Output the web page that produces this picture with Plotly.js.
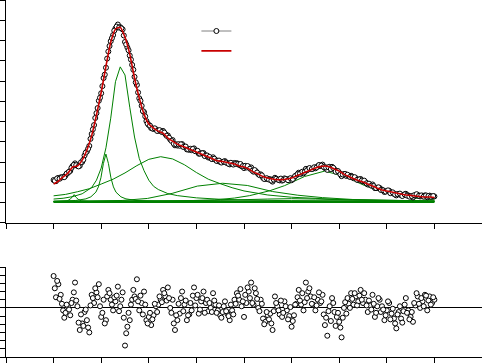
<!DOCTYPE html>
<html>
<head>
<meta charset="utf-8">
<script src="https://cdn.plot.ly/plotly-3.0.1.min.js"></script>
<style>html,body{margin:0;padding:0;background:#fff;}#chart{width:482px;height:363px;}</style>
</head>
<body>
<div id="chart"></div>
<script>
// Measured spectrum, set 1 (x grid starts at 1.0, step 0.05)
const dataY = [2.12,2.06,2.22,2.25,2.26,2.34,2.47,2.57,2.81,2.94,
2.82,2.82,3.01,3.33,3.53,3.80,4.39,4.83,5.42,6.03,
6.40,7.15,7.66,8.46,8.97,9.27,9.60,9.79,9.66,9.55,
8.93,8.66,8.26,7.80,7.21,6.81,6.15,5.78,5.47,5.03,
4.83,4.68,4.64,4.62,4.55,4.53,4.54,4.38,4.32,4.12,
4.09,3.83,3.82,3.81,3.89,3.77,3.63,3.61,3.59,3.68,
3.56,3.42,3.44,3.45,3.33,3.23,3.20,3.24,3.12,3.06,
3.01,3.01,3.05,2.95,2.89,2.92,2.96,2.95,2.86,2.80,
2.71,2.74,2.76,2.74,2.53,2.55,2.41,2.40,2.23,2.17,
2.18,2.16,2.04,2.23,2.15,2.10,2.09,2.20,2.16,2.15,
2.11,2.23,2.35,2.48,2.43,2.45,2.67,2.66,2.68,2.68,
2.70,2.80,2.81,2.88,2.71,2.62,2.77,2.77,2.64,2.56,
2.48,2.31,2.41,2.32,2.32,2.33,2.21,2.21,2.13,2.17,
2.05,2.02,1.90,1.89,1.90,1.72,1.73,1.73,1.64,1.53,
1.57,1.59,1.50,1.44,1.36,1.43,1.37,1.39,1.44,1.36,
1.31,1.26,1.35,1.39,1.31,1.34,1.36,1.27,1.35,1.30,
1.31];

// Measured spectrum, set 2 (x grid starts at 1.025, step 0.05)
const dataY2 = [2.08,2.20,2.18,2.25,2.26,2.44,2.53,2.72,2.87,2.85,
2.79,2.99,3.12,3.47,3.66,4.15,4.62,5.18,5.67,6.18,
6.75,7.32,8.11,8.73,9.12,9.49,9.69,9.64,9.60,9.25,
8.81,8.52,8.06,7.56,6.94,6.44,6.03,5.52,5.26,4.90,
4.80,4.66,4.67,4.54,4.58,4.49,4.46,4.30,4.21,4.05,
3.91,3.88,3.89,3.88,3.75,3.77,3.63,3.66,3.65,3.54,
3.56,3.42,3.44,3.30,3.33,3.26,3.15,3.17,3.06,3.08,
2.98,3.03,2.98,2.92,2.97,2.88,2.91,2.91,2.91,2.81,
2.82,2.81,2.68,2.58,2.61,2.49,2.36,2.35,2.17,2.21,
2.14,2.09,2.14,2.18,2.13,2.19,2.12,2.17,2.11,2.21,
2.17,2.32,2.41,2.43,2.53,2.52,2.60,2.71,2.66,2.75,
2.74,2.86,2.83,2.76,2.74,2.75,2.66,2.72,2.53,2.56,
2.40,2.39,2.42,2.38,2.27,2.27,2.26,2.13,2.15,2.09,
2.09,1.96,1.94,1.84,1.82,1.72,1.76,1.63,1.61,1.55,
1.61,1.47,1.51,1.40,1.43,1.45,1.33,1.41,1.35,1.30,
1.33,1.37,1.42,1.34,1.36,1.30,1.36,1.33,1.30,1.33];

// Residuals, set 1 and set 2 (same grids as the spectrum sets)
const residY = [3.9,1.3,2.9,1.6,-0.3,-0.6,0.2,-0.9,1.0,3.1,
0.2,-2.7,-1.9,-0.5,-1.5,-3.0,1.6,0.6,1.9,2.9,
-1.1,1.0,-1.5,2.2,1.0,-0.3,0.8,2.6,0.2,1.9,
-4.6,-2.3,-1.5,1.0,1.4,3.5,-0.3,0.6,2.0,-1.5,
-1.1,-2.1,-0.9,0.2,0.4,1.0,2.2,1.4,2.5,0.0,
1.0,-2.7,-1.5,-0.7,2.0,0.4,-1.5,-0.8,-0.3,2.5,
1.2,-0.7,0.8,2.0,0.6,-0.4,0.0,1.8,0.4,-0.3,
-0.9,-0.5,0.8,-0.7,-1.5,-0.3,1.0,1.8,1.0,0.2,
-1.1,0.6,2.0,3.1,0.4,1.8,0.0,1.0,-1.3,-1.7,
-0.9,-0.7,-2.7,1.4,0.2,-0.8,-1.1,0.8,-0.3,-1.0,
-2.3,-0.9,0.5,2.2,0.4,-0.3,3.1,2.0,1.4,0.4,
-0.3,1.0,0.6,1.6,-2.1,-3.4,0.2,1.2,-0.5,-1.1,
-1.7,-3.6,0.0,-0.7,0.5,1.8,0.4,1.4,0.8,2.2,
0.6,1.0,-0.5,0.3,1.6,-1.1,0.2,1.0,0.2,-1.5,
-0.3,0.6,-0.7,-1.3,-2.5,-0.5,-1.3,-0.4,1.2,-0.3,
-1.1,-1.7,0.3,1.4,0.0,0.8,1.6,-0.3,1.4,0.6,
1.0];
const residY2 = [2.4,3.3,1.1,0.5,-1.2,0.4,-0.2,0.6,1.9,0.9,
-1.8,-0.8,-2.2,-0.2,-2.4,0.3,1.2,2.4,1.3,0.2,
-0.6,-1.9,1.4,1.8,0.4,1.3,1.5,-0.4,1.0,-1.2,
-3.1,-0.6,0.4,2.2,1.1,0.8,1.5,-0.8,0.4,-1.9,
-0.6,-1.4,0.5,-0.5,1.4,0.7,1.8,0.9,1.2,-0.6,
-1.9,-0.9,0.5,1.2,-0.4,0.9,-0.9,0.6,1.5,0.3,
1.6,-0.2,1.2,-0.6,1.0,0.6,-0.5,0.9,-0.6,0.3,
-1.2,0.2,-0.4,-1.0,0.4,-0.8,0.5,1.5,2.3,0.8,
1.6,2.5,1.2,0.6,2.4,1.1,-0.4,0.5,-2.0,-0.5,
-1.4,-1.9,-0.4,0.6,-0.3,0.9,-0.6,0.2,-1.4,0.1,
-1.6,0.4,1.3,0.9,1.8,0.7,1.2,2.4,0.5,1.3,
0.3,1.9,0.8,-0.8,-1.2,-0.4,-1.6,0.6,-2.2,-0.6,
-2.4,-1.2,0.7,1.2,0.0,1.1,1.8,0.3,1.5,1.0,
1.8,0.3,0.9,-0.2,0.5,-0.6,1.2,-0.5,-0.2,-0.9,
0.8,-1.4,-0.1,-1.9,-0.8,0.2,-1.8,0.4,-0.6,-1.4,
-0.5,0.6,1.8,0.5,1.2,0.2,1.5,0.9,0.4,1.3];

// Cumulative fit (x grid starts at 1.0, step 0.1)
const fitY = [1.92,2.07,2.27,2.46,2.76,2.81,3.10,3.60,4.31,5.32,
6.45,7.73,8.92,9.56,9.65,9.16,8.33,7.14,6.16,5.37,
4.88,4.68,4.53,4.43,4.19,4.04,3.89,3.79,3.70,3.60,
3.50,3.40,3.30,3.20,3.10,3.05,3.01,2.96,2.91,2.81,
2.76,2.66,2.51,2.41,2.29,2.22,2.17,2.14,2.14,2.17,
2.22,2.32,2.41,2.51,2.61,2.71,2.78,2.81,2.76,2.66,
2.56,2.41,2.29,2.19,2.09,2.02,1.92,1.82,1.72,1.63,
1.58,1.53,1.48,1.43,1.38,1.36,1.33,1.31,1.28,1.28,
1.26];

// Fitted components (each on its own x samples)
const peakAx = [1.0,1.2,1.4,1.6,1.8,1.9,2.0,2.1,2.2,2.3,2.4,2.5,2.6,2.7,2.8,2.9,3.0,3.1,3.2,3.4,3.6,3.8,4.0,4.5,5.0,6.0,7.0,9.0];
const peakAy = [1.18,1.22,1.30,1.44,1.75,2.11,2.71,3.71,5.17,6.97,7.70,7.30,5.71,4.24,3.18,2.58,2.11,1.81,1.65,1.45,1.35,1.28,1.24,1.17,1.13,1.10,1.08,1.07];
const peakBx = [1.0,1.046,1.467,1.678,1.783,1.888,1.941,1.994,2.046,2.099,2.152,2.204,2.257,2.31,2.415,2.52,2.73,3.15,9.0];
const peakBy = [1.06,1.07,1.11,1.19,1.29,1.52,1.78,2.23,2.93,3.40,2.93,2.23,1.78,1.52,1.29,1.19,1.11,1.07,1.05];
const peakCx = [1.0,1.116,1.284,1.348,1.39,1.432,1.474,1.516,1.579,1.748,3.0,9.0];
const peakCy = [1.05,1.06,1.09,1.17,1.26,1.40,1.26,1.17,1.09,1.06,1.05,1.05];
const peakDx = [1.0,1.25,1.5,1.75,2.0,2.25,2.5,2.75,3.0,3.25,3.5,3.75,4.0,4.25,4.5,4.75,5.0,5.5,6.0,6.5,7.0,8.0,9.0];
const peakDy = [1.34,1.41,1.54,1.69,1.92,2.16,2.47,2.83,3.14,3.27,3.16,2.87,2.49,2.16,1.94,1.74,1.58,1.38,1.27,1.21,1.16,1.12,1.09];
const peakEx = [1.0,1.81,2.44,2.97,3.49,4.02,4.55,5.07,5.60,6.13,6.65,7.28,8.34,9.0];
const peakEy = [1.05,1.07,1.11,1.21,1.46,1.82,1.96,1.85,1.55,1.37,1.25,1.16,1.09,1.07];
const peakFx = [1.0,1.43,3.54,4.38,4.80,5.12,5.54,5.85,6.27,6.695,7.12,7.54,7.85,8.27,8.59,9.0];
const peakFy = [1.05,1.06,1.08,1.14,1.23,1.35,1.59,1.84,2.29,2.56,2.29,1.84,1.59,1.35,1.23,1.14];
const peakGx = [1.0,3.0,4.5,5.5,6.0,6.5,7.5,9.0];
const peakGy = [1.05,1.07,1.12,1.18,1.20,1.18,1.12,1.07];
const baseX = [1.0,9.0];
const baseY = [1.05,1.05];

const green = 'rgb(0,128,0)';
const comps = [[peakAx,peakAy],[peakBx,peakBy],[peakCx,peakCy],[peakDx,peakDy],[peakEx,peakEy],[peakFx,peakFy],[peakGx,peakGy]];
const mk = {symbol:'circle', size:5, color:'white', line:{color:'black', width:1}};

const traces = [];
traces.push({x:[null], y:[null], name:'', mode:'lines+markers', xaxis:'x', yaxis:'y',
  line:{color:'rgb(128,128,128)', width:1}, marker:mk, hoverinfo:'skip'});
comps.forEach(c => traces.push({x:c[0], y:c[1], mode:'lines', line:{color:green, width:1}, showlegend:false, xaxis:'x', yaxis:'y'}));
traces.push({x:baseX, y:baseY, mode:'lines', line:{color:green, width:2.5}, showlegend:false, xaxis:'x', yaxis:'y'});
traces.push({y:dataY, x0:1.0, dx:0.05, mode:'markers', showlegend:false, xaxis:'x', yaxis:'y', marker:mk});
traces.push({y:dataY2, x0:1.025, dx:0.05, mode:'markers', showlegend:false, xaxis:'x', yaxis:'y', marker:mk});
traces.push({y:fitY, x0:1.0, dx:0.1, mode:'lines', name:'', line:{color:'rgb(200,0,0)', width:1.6, shape:'spline', smoothing:0.6}, xaxis:'x', yaxis:'y'});
traces.push({y:residY, x0:1.0, dx:0.05, mode:'markers', showlegend:false, xaxis:'x2', yaxis:'y2', marker:mk});
traces.push({y:residY2, x0:1.025, dx:0.05, mode:'markers', showlegend:false, xaxis:'x2', yaxis:'y2', marker:mk});

const axBase = {showline:true, linecolor:'black', linewidth:1, ticks:'outside', ticklen:5, tickcolor:'black',
  showticklabels:false, showgrid:false, zeroline:false, dtick:1, tick0:0};

const layout = {
  width:482, height:363,
  margin:{l:6, r:0, t:0, b:6, pad:0},
  paper_bgcolor:'white', plot_bgcolor:'white',
  font:{family:'Liberation Sans, Arial, sans-serif', size:13, color:'black'},
  showlegend:true,
  legend:{x:0.40, y:0.955, xanchor:'left', yanchor:'top', bgcolor:'rgba(0,0,0,0)', borderwidth:0, font:{size:13}},
  xaxis:Object.assign({}, axBase, {range:[0,10], anchor:'y', domain:[0,1]}),
  yaxis:Object.assign({}, axBase, {range:[0,11], anchor:'x', domain:[0.3754,1]}),
  xaxis2:Object.assign({}, axBase, {range:[0,10], anchor:'y2', domain:[0,1]}),
  yaxis2:Object.assign({}, axBase, {range:[-6,5], anchor:'x2', domain:[0,0.2521], zeroline:true, zerolinecolor:'black', zerolinewidth:1})
};

Plotly.newPlot('chart', traces, layout, {staticPlot:true, displayModeBar:false});
</script>
</body>
</html>
